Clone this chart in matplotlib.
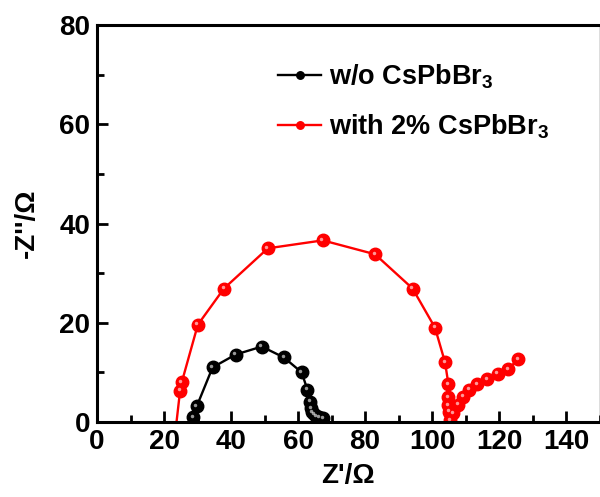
import matplotlib.pyplot as plt
import matplotlib.transforms as mtransforms
from matplotlib.ticker import MultipleLocator

# Nyquist data
z_re_ref = [27.9, 28.7, 29.8, 34.5, 41.4, 49.2, 55.8, 61.1, 62.8, 63.7,
            63.9, 64.2, 64.8, 65.4, 66.3, 67.5]
z_im_ref = [-1.0, 1.0, 3.2, 11.0, 13.6, 15.2, 13.0, 10.0, 6.5, 4.1,
            2.8, 2.0, 1.6, 1.2, 1.0, 0.8]

z_re_cs = [23.4, 24.8, 25.3, 30.1, 37.9, 51.0, 67.4, 83.0, 94.2, 100.9,
           103.9, 104.9, 104.9, 104.9, 105.2, 105.4, 106.4, 107.9, 109.3,
           111.1, 113.5, 116.5, 119.6, 122.8, 125.8]
z_im_cs = [-2.0, 6.3, 8.0, 19.6, 26.9, 35.0, 36.6, 33.8, 26.9, 19.0,
           12.0, 7.6, 5.0, 3.4, 2.1, 0.4, 1.8, 3.5, 5.1,
           6.5, 7.6, 8.6, 9.7, 10.7, 12.7]

labels = ['w/o CsPbBr$_\\mathregular{3}$', 'with 2% CsPbBr$_\\mathregular{3}$']

plt.rcParams['font.family'] = 'Liberation Sans'
plt.rcParams['font.weight'] = 'bold'
plt.rcParams['axes.labelweight'] = 'bold'
plt.rcParams['mathtext.default'] = 'bf'

fig = plt.figure(figsize=(6.0, 4.97), dpi=100)
ax = fig.add_axes([97/600, 1 - 422/497, 502.5/600, 397/497])

for xs, ys, col, lab in [(z_re_ref, z_im_ref, 'black', labels[0]),
                         (z_re_cs, z_im_cs, 'red', labels[1])]:
    ax.plot(xs, ys, '-o', color=col, lw=1.7, ms=9, mfc=col, mec=col,
            label=lab)
    # little highlight to mimic the shaded balls
    hl = mtransforms.offset_copy(ax.transData, fig=fig, x=-1.0, y=1.0,
                                 units='points')
    ax.plot(xs, ys, 'o', color='white', ms=2.5, alpha=0.6, mew=0,
            transform=hl)

ax.set_xlim(0, 150)
ax.set_ylim(0, 80)
ax.xaxis.set_major_locator(MultipleLocator(20))
ax.xaxis.set_minor_locator(MultipleLocator(10))
ax.yaxis.set_major_locator(MultipleLocator(20))
ax.yaxis.set_minor_locator(MultipleLocator(10))
ax.tick_params(which='both', direction='in', top=False, right=False,
               labelsize=20, width=2)
ax.tick_params(which='major', length=8, pad=5)
ax.tick_params(which='minor', length=5)
for side in ['left', 'bottom', 'top']:
    ax.spines[side].set_linewidth(2.2)
ax.spines['right'].set_linewidth(1.0)
ax.spines['right'].set_color('#555555')

ax.set_xlabel("Z'/\u03a9", fontsize=20, labelpad=6)
ax.set_ylabel("-Z''/\u03a9", fontsize=20, labelpad=14)

ax.legend(loc='upper left', bbox_to_anchor=(0.36, 0.905), frameon=False,
          fontsize=19.5, handlelength=1.6, handletextpad=0.3,
          labelspacing=0.8, markerscale=0.6, borderpad=0,
          borderaxespad=0)

fig.savefig('out.png', dpi=100)
